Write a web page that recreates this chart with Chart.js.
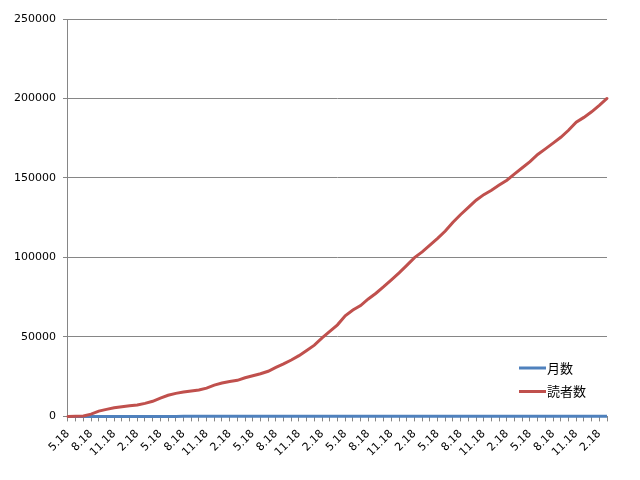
<!DOCTYPE html>
<html>
<head>
<meta charset="utf-8">
<title>読者数</title>
<script src="https://cdn.jsdelivr.net/npm/chart.js"></script>
<style>
  html, body { margin: 0; padding: 0; background: #fff; }
</style>
</head>
<body>
<canvas id="chart" width="640" height="480"></canvas>
<script>
// kategorier (månad.dag), en per månad
const months = [
  '5.18', '6.18', '7.18', '8.18', '9.18', '10.18', '11.18', '12.18', '1.18', '2.18', '3.18', '4.18',
  '5.18', '6.18', '7.18', '8.18', '9.18', '10.18', '11.18', '12.18', '1.18', '2.18', '3.18', '4.18',
  '5.18', '6.18', '7.18', '8.18', '9.18', '10.18', '11.18', '12.18', '1.18', '2.18', '3.18', '4.18',
  '5.18', '6.18', '7.18', '8.18', '9.18', '10.18', '11.18', '12.18', '1.18', '2.18', '3.18', '4.18',
  '5.18', '6.18', '7.18', '8.18', '9.18', '10.18', '11.18', '12.18', '1.18', '2.18', '3.18', '4.18',
  '5.18', '6.18', '7.18', '8.18', '9.18', '10.18', '11.18', '12.18', '1.18', '2.18', '3.18'
];

// 月数
const monthCount = [
  1, 2, 3, 4, 5, 6, 7, 8, 9, 10,
  11, 12, 13, 14, 15, 16, 17, 18, 19, 20,
  21, 22, 23, 24, 25, 26, 27, 28, 29, 30,
  31, 32, 33, 34, 35, 36, 37, 38, 39, 40,
  41, 42, 43, 44, 45, 46, 47, 48, 49, 50,
  51, 52, 53, 54, 55, 56, 57, 58, 59, 60,
  61, 62, 63, 64, 65, 66, 67, 68, 69, 70,
  71
];

// 読者数
const readers = [
  0, 100, 300, 1400, 3300, 4400, 5400, 6100, 6700, 7200,
  8200, 9500, 11500, 13300, 14500, 15300, 16000, 16600, 17800, 19700,
  21000, 22000, 22700, 24300, 25600, 26800, 28400, 30800, 33000, 35500,
  38200, 41500, 44800, 49400, 53500, 57600, 63300, 66900, 69700, 73900,
  77500, 81600, 85900, 90300, 95000, 99900, 103500, 107700, 112000, 116600,
  122200, 127000, 131500, 136000, 139500, 142300, 145500, 148600, 152600, 156400,
  160300, 164800, 168300, 171900, 175600, 180000, 185100, 188100, 191600, 195700,
  200000
];

// y-axelns steg
const yTicks = [0, 50000, 100000, 150000, 200000, 250000];

const axisGray = '#868686';
const font = { family: '"DejaVu Sans", sans-serif', size: 11 };

// legend inne i ritytan, som i Excel
const insideLegend = {
  id: 'insideLegend',
  afterDraw(chart) {
    const ctx = chart.ctx;
    const x = chart.chartArea.right - 88;
    chart.data.datasets.forEach((ds, i) => {
      const y = 368 + i * 23.5;
      ctx.save();
      ctx.strokeStyle = ds.borderColor;
      ctx.lineWidth = 3;
      ctx.beginPath();
      ctx.moveTo(x, y);
      ctx.lineTo(x + 27, y);
      ctx.stroke();
      ctx.fillStyle = '#000';
      ctx.font = '13px "Noto Sans CJK JP"';
      ctx.textBaseline = 'middle';
      ctx.fillText(ds.label, x + 28, y);
      ctx.restore();
    });
  }
};

new Chart(document.getElementById('chart'), {
  type: 'line',
  data: {
    labels: months,
    datasets: [
      {
        label: '月数',
        data: monthCount,
        borderColor: '#4F81BD',
        borderWidth: 3,
        pointRadius: 0,
        tension: 0,
        clip: false,
        order: 1
      },
      {
        label: '読者数',
        data: readers,
        borderColor: '#C0504D',
        borderWidth: 3,
        pointRadius: 0,
        tension: 0,
        clip: false,
        borderCapStyle: 'round',
        order: 0
      }
    ]
  },
  options: {
    responsive: false,
    animation: false,
    layout: { padding: { left: 7, right: 33, top: 19, bottom: 15 } },
    plugins: {
      legend: { display: false },
      tooltip: { enabled: false }
    },
    scales: {
      x: {
        offset: false,
        grid: {
          color: 'rgba(0,0,0,0)',
          tickColor: axisGray,
          drawTicks: true,
          tickLength: 5
        },
        border: { display: true, color: axisGray, width: 1 },
        ticks: {
          autoSkip: false,
          maxRotation: 45,
          minRotation: 45,
          padding: 6,
          color: '#000',
          font: font,
          callback: function (val, idx) {
            return idx % 3 === 0 ? this.getLabelForValue(val) : '';
          }
        }
      },
      y: {
        min: yTicks[0],
        max: yTicks[yTicks.length - 1],
        afterBuildTicks: axis => { axis.ticks = yTicks.map(v => ({ value: v })); },
        grid: {
          color: axisGray,
          tickColor: axisGray,
          tickLength: 5
        },
        border: { display: true, color: axisGray, width: 1 },
        ticks: {
          padding: 7,
          color: '#000',
          font: font,
          callback: v => String(v)
        }
      }
    }
  },
  plugins: [insideLegend]
});
</script>
</body>
</html>
